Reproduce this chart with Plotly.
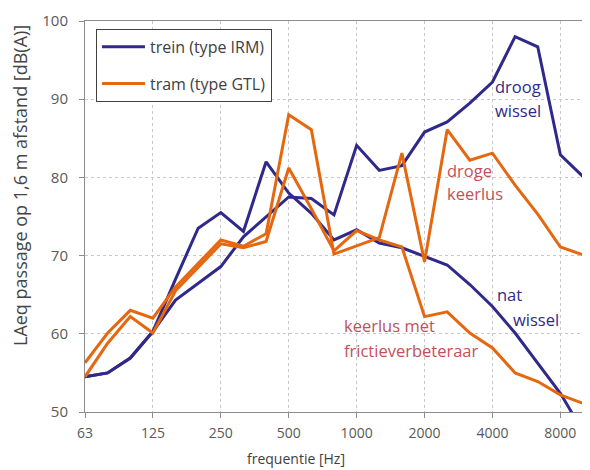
import plotly.graph_objects as go

freqs = ["63", "80", "100", "125", "160", "200", "250", "315", "400", "500", "630", "800",
         "1000", "1250", "1600", "2000", "2500", "3150", "4000", "5000", "6300", "8000", "10000"]

trein_droog_wissel = [54.5, 55.0, 56.9, 60.3, 64.3, 66.5, 68.6, 72.4, 75.0, 77.5, 77.3, 75.2,
                      84.1, 80.9, 81.5, 85.8, 87.1, 89.5, 92.2, 98.0, 96.7, 82.9, 80.1]
trein_nat_wissel = [54.5, 55.0, 56.9, 60.3, 67.0, 73.5, 75.5, 73.1, 82.0, 78.0, 75.4, 72.0,
                    73.3, 71.6, 71.0, 69.9, 68.8, 66.3, 63.5, 60.1, 56.3, 52.4, 47.5]
tram_droge_keerlus = [56.3, 60.1, 63.0, 62.0, 66.0, 69.0, 72.0, 71.2, 72.8, 88.0, 86.1, 70.2,
                      71.2, 72.3, 83.1, 69.2, 86.1, 82.2, 83.1, 79.0, 75.3, 71.1, 70.1]
tram_frictie = [54.5, 58.8, 62.2, 60.1, 65.5, 68.5, 71.5, 71.0, 71.8, 81.2, 76.0, 70.6,
                73.2, 72.0, 71.1, 62.2, 62.8, 60.1, 58.2, 55.0, 53.9, 52.2, 51.1]

tick_labels = ["63", "125", "250", "500", "1000", "2000", "4000", "8000"]
y_ticks = [50, 60, 70, 80, 90, 100]

BLUE = "#2f2a8a"
ORANGE = "#e5670f"
RED_TXT = "#c2505a"
FONT = "Open Sans"

fig = go.Figure()
fig.add_trace(go.Scatter(x=freqs, y=trein_droog_wissel, mode="lines", name="trein (type IRM)",
                         line=dict(color=BLUE, width=3), legendgroup="trein", showlegend=True))
fig.add_trace(go.Scatter(x=freqs, y=trein_nat_wissel, mode="lines", name="trein (type IRM)",
                         line=dict(color=BLUE, width=3), legendgroup="trein", showlegend=False))
fig.add_trace(go.Scatter(x=freqs, y=tram_droge_keerlus, mode="lines", name="tram (type GTL)",
                         line=dict(color=ORANGE, width=3), legendgroup="tram", showlegend=True))
fig.add_trace(go.Scatter(x=freqs, y=tram_frictie, mode="lines", name="tram (type GTL)",
                         line=dict(color=ORANGE, width=3), legendgroup="tram", showlegend=False))

ann_font = dict(family=FONT, size=16.5)
annotations = [
    dict(x=19.13, y=91.6, text="droog", font=dict(color=BLUE, **ann_font), xanchor="center"),
    dict(x=19.13, y=88.5, text="wissel", font=dict(color=BLUE, **ann_font), xanchor="center"),
    dict(x=15.9, y=80.9, text="droge", font=dict(color=RED_TXT, **ann_font), xanchor="left"),
    dict(x=15.9, y=77.9, text="keerlus", font=dict(color=RED_TXT, **ann_font), xanchor="left"),
    dict(x=18.77, y=65.0, text="nat", font=dict(color=BLUE, **ann_font), xanchor="center"),
    dict(x=19.92, y=61.8, text="wissel", font=dict(color=BLUE, **ann_font), xanchor="center"),
    dict(x=11.35, y=61.1, text="keerlus met", font=dict(color=RED_TXT, **ann_font), xanchor="left"),
    dict(x=11.35, y=57.9, text="frictieverbeteraar", font=dict(color=RED_TXT, **ann_font), xanchor="left"),
]
for a in annotations:
    a.update(showarrow=False, xref="x", yref="y", yanchor="middle")

annotations.append(dict(x=0.424, y=-0.119, xref="paper", yref="paper", text="frequentie [Hz]",
                        showarrow=False, font=dict(family=FONT, size=14, color="#404040"),
                        xanchor="center", yanchor="middle"))
annotations.append(dict(x=-0.1305, y=0.578, xref="paper", yref="paper",
                        text="LAeq passage op 1,6 m afstand [dB(A)]", textangle=-90,
                        showarrow=False, font=dict(family=FONT, size=18, color="#454545"),
                        xanchor="center", yanchor="middle"))

fig.update_layout(
    width=590, height=470,
    margin=dict(l=77, r=15, t=13, b=66, autoexpand=False),
    paper_bgcolor="white", plot_bgcolor="white",
    font=dict(family=FONT, size=14, color="#595959"),
    annotations=annotations,
    showlegend=True,
    legend=dict(x=0.022, y=0.98, xanchor="left", yanchor="top", bgcolor="white",
                bordercolor="#404040", borderwidth=1, tracegroupgap=13, itemwidth=43,
                font=dict(family=FONT, size=16, color="#404040")),
)
fig.update_xaxes(type="category", range=[0, 22], tickmode="array", tickvals=tick_labels,
                 ticktext=tick_labels, showgrid=True, gridcolor="#c8c8c8", griddash="dot",
                 gridwidth=1, showline=True, linecolor="#8c8c8c", mirror=True,
                 ticks="outside", ticklen=5, tickcolor="#8c8c8c", zeroline=False,
                 automargin=False, ticklabelstandoff=3,
                 tickfont=dict(family=FONT, size=14, color="#595959"))
fig.update_yaxes(range=[50, 100], tickmode="array", tickvals=y_ticks, showgrid=True,
                 gridcolor="#c8c8c8", griddash="dot", gridwidth=1, showline=True,
                 linecolor="#8c8c8c", mirror=True, ticks="outside", ticklen=5,
                 tickcolor="#8c8c8c", zeroline=False, automargin=False,
                 ticklabelstandoff=8,
                 tickfont=dict(family=FONT, size=15, color="#595959"))

fig.write_html("out.html")
